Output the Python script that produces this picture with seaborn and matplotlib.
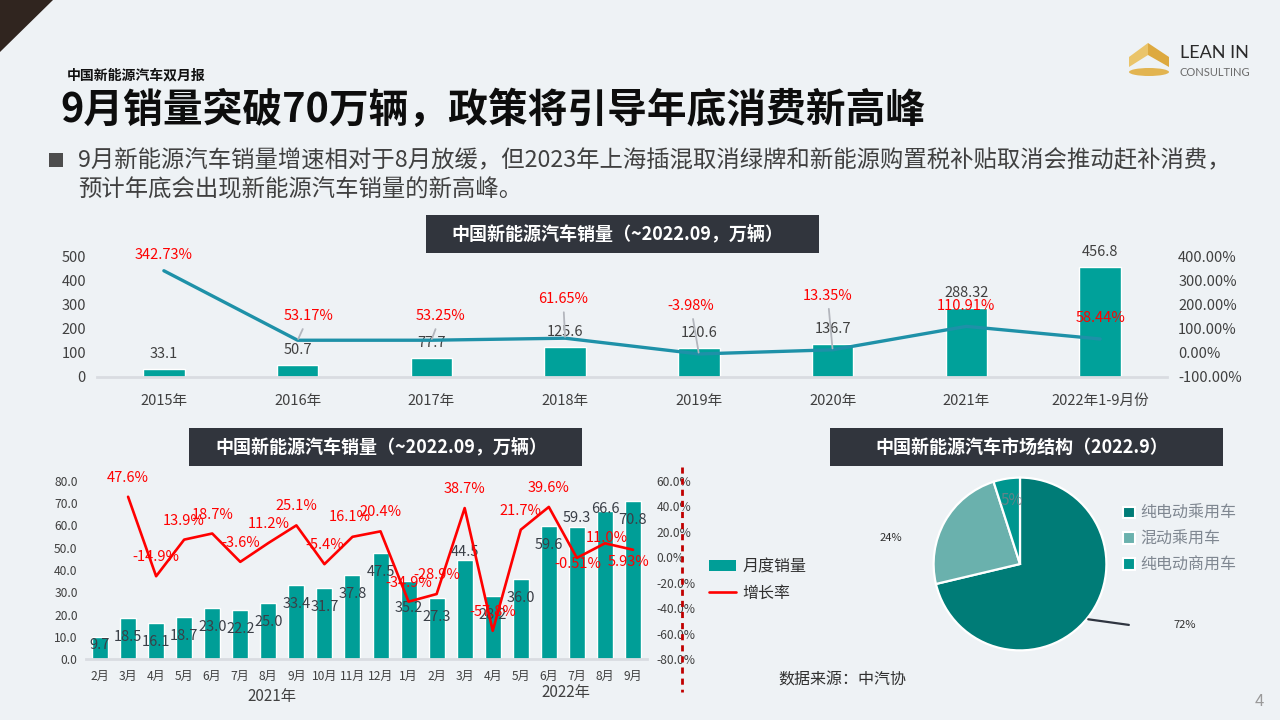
import numpy as np
import pandas as pd
import matplotlib
matplotlib.use("Agg")
import matplotlib.pyplot as plt
import seaborn as sns
from matplotlib.patches import Rectangle, Polygon, Ellipse, Patch
from matplotlib.lines import Line2D

# ---------------- data ----------------
years = ["2015年", "2016年", "2017年", "2018年", "2019年", "2020年", "2021年", "2022年1-9月份"]
annual_sales = [33.1, 50.7, 77.7, 125.6, 120.6, 136.7, 288.32, 456.8]
annual_sales_labels = ["33.1", "50.7", "77.7", "125.6", "120.6", "136.7", "288.32", "456.8"]
annual_growth = [342.73, 53.17, 53.25, 61.65, -3.98, 13.35, 110.91, 58.44]
annual_growth_labels = ["342.73%", "53.17%", "53.25%", "61.65%", "-3.98%", "13.35%", "110.91%", "58.44%"]

months = ["2月", "3月", "4月", "5月", "6月", "7月", "8月", "9月", "10月", "11月", "12月",
          "1月", "2月", "3月", "4月", "5月", "6月", "7月", "8月", "9月"]
monthly_sales = [9.7, 18.5, 16.1, 18.7, 23.0, 22.2, 25.0, 33.4, 31.7, 37.8, 47.5,
                 35.2, 27.3, 44.5, 28.2, 36.0, 59.6, 59.3, 66.6, 70.8]
monthly_growth = [np.nan, 47.6, -14.9, 13.9, 18.7, -3.6, 11.2, 25.1, -5.4, 16.1, 20.4,
                  -34.9, -28.9, 38.7, -57.8, 21.7, 39.6, -0.51, 11.0, 5.93]
monthly_growth_labels = ["", "47.6%", "-14.9%", "13.9%", "18.7%", "-3.6%", "11.2%", "25.1%", "-5.4%",
                         "16.1%", "20.4%", "-34.9%", "-28.9%", "38.7%", "-57.8%", "21.7%", "39.6%",
                         "-0.51%", "11.0%", "5.93%"]
year_groups = ["2021年", "2022年"]

segments = ["纯电动乘用车", "混动乘用车", "纯电动商用车"]
shares = [72, 24, 5]

# ---------------- texts ----------------
kicker = "中国新能源汽车双月报"
title = "9月销量突破70万辆，政策将引导年底消费新高峰"
bullet_1 = "9月新能源汽车销量增速相对于8月放缓，但2023年上海插混取消绿牌和新能源购置税补贴取消会推动赶补消费，"
bullet_2 = "预计年底会出现新能源汽车销量的新高峰。"
box_top = "中国新能源汽车销量（~2022.09，万辆）"
box_left = "中国新能源汽车销量（~2022.09，万辆）"
box_right = "中国新能源汽车市场结构（2022.9）"
source = "数据来源：中汽协"

# ---------------- styles ----------------
BG = "#EEF2F5"
BOX = "#31353D"
TEAL_TOP = "#00A19A"
TEAL_BAR = "#009E97"
LINE_TOP = "#1E91A8"
RED = "#FF0000"
TXT = "#404040"
PIE_COLORS = ["#007C77", "#6AB1AD", "#00968F"]

W, H = 1280, 720


def fx(px):
    return px / W


def fy(py):
    return 1 - py / H


sns.set_theme(style="white")
plt.rcParams["font.family"] = ["Noto Sans CJK SC", "DejaVu Sans"]
plt.rcParams["axes.unicode_minus"] = False

fig = plt.figure(figsize=(12.8, 7.2), dpi=100, facecolor=BG)

# ---------------- header ----------------
fig.add_artist(Polygon([(0, 1), (fx(53), 1), (0, fy(52))], closed=True,
                       transform=fig.transFigure, facecolor="#30251F", edgecolor="none"))
fig.text(fx(67), fy(76), kicker, fontsize=10, fontweight="bold", color="#111111", va="center", ha="left")
fig.text(fx(60), fy(110), title, fontsize=28.6, fontweight="bold", color="#0D0D0D", va="center", ha="left")
fig.add_artist(Rectangle((fx(49), fy(167)), 14 / W, 14 / H, transform=fig.transFigure,
                         facecolor="#4D4D4D", edgecolor="none"))
fig.text(fx(78), fy(161), bullet_1, fontsize=16.8, color=TXT, va="center", ha="left")
fig.text(fx(78), fy(190), bullet_2, fontsize=16.8, color=TXT, va="center", ha="left")

# logo
fig.add_artist(Polygon([(fx(1129), fy(57)), (fx(1148), fy(43)), (fx(1148), fy(55)), (fx(1129), fy(67))],
                       closed=True, transform=fig.transFigure, facecolor="#EAC46A", edgecolor="none"))
fig.add_artist(Polygon([(fx(1148), fy(43)), (fx(1169), fy(57)), (fx(1169), fy(67)), (fx(1148), fy(55))],
                       closed=True, transform=fig.transFigure, facecolor="#DDA93F", edgecolor="none"))
fig.add_artist(Ellipse((fx(1149), fy(72)), 40 / W, 8 / H, transform=fig.transFigure,
                       facecolor="#E2B450", edgecolor="none"))
fig.text(fx(1180), fy(53), "LEAN IN", fontsize=13, family=["Lato", "DejaVu Sans"], color="#2A2A2A",
         va="center", ha="left")
fig.text(fx(1180), fy(72), "CONSULTING", fontsize=8, family=["Lato", "DejaVu Sans"], color="#6B6B6B",
         va="center", ha="left")

# title boxes
for (x0, x1, y0, y1, txt, cx) in [(426, 819, 215, 253, box_top, 617),
                                  (189, 582, 428, 466, box_left, 381),
                                  (830, 1223, 428, 466, box_right, 1022)]:
    fig.add_artist(Rectangle((fx(x0), fy(y1)), (x1 - x0) / W, (y1 - y0) / H, transform=fig.transFigure,
                             facecolor=BOX, edgecolor="none"))
    fig.text(fx(cx), fy((y0 + y1) / 2), txt, fontsize=13, fontweight="bold", color="white",
             ha="center", va="center")

# ---------------- top chart ----------------
ax1 = fig.add_axes([fx(97), fy(377), 1070 / W, 132 / H])
ax1.set_facecolor("none")
df_top = pd.DataFrame({"pos": range(len(years)), "sales": annual_sales, "growth": annual_growth})
sns.barplot(data=df_top, x="pos", y="sales", color=TEAL_TOP, width=0.31, saturation=1, ax=ax1)
ax1.set_xlim(-0.5, 7.5)
ax1.set_ylim(0, 550)
ax1.set_yticks([0, 100, 200, 300, 400, 500])
ax1.set_yticklabels(["0", "100", "200", "300", "400", "500"])
ax1.set_xticks(range(len(years)))
ax1.set_xticklabels(years)
ax1.set_xlabel("")
ax1.set_ylabel("")
ax1.tick_params(axis="y", length=0, pad=8, labelsize=10.5, labelcolor=TXT)
ax1.tick_params(axis="x", length=0, pad=12, labelsize=10.5, labelcolor=TXT)
for s in ["top", "right", "left"]:
    ax1.spines[s].set_visible(False)
ax1.spines["bottom"].set_color("#D9DCE1")
ax1.spines["bottom"].set_linewidth(2)
ax1.grid(False)
for i, (v, lab) in enumerate(zip(annual_sales, annual_sales_labels)):
    ax1.annotate(lab, xy=(i, v), xytext=(0, 15), textcoords="offset pixels", ha="center", va="center",
                 fontsize=10.5, color=TXT)

ax1t = ax1.twinx()
ax1t.set_facecolor("none")
sns.lineplot(data=df_top, x="pos", y="growth", color=LINE_TOP, lw=2.4, ax=ax1t, legend=False)
ax1t.set_ylim(-100, 450)
ax1t.set_yticks([-100, 0, 100, 200, 300, 400])
ax1t.set_yticklabels([f"{v:.2f}%" for v in [-100, 0, 100, 200, 300, 400]])
ax1t.set_xlim(-0.5, 7.5)
ax1t.set_xlabel("")
ax1t.set_ylabel("")
ax1t.tick_params(axis="y", length=0, pad=8, labelsize=10.5, labelcolor=TXT)
for s in ax1t.spines.values():
    s.set_visible(False)
ax1t.grid(False)
top_offsets = [(0, 16), (11, 24), (9, 24), (-2, 39), (-8, 48), (-5, 54), (0, 20), (0, 21)]
top_leader = [False, True, True, True, True, True, False, False]
for i, (g, lab) in enumerate(zip(annual_growth, annual_growth_labels)):
    dx, dy = top_offsets[i]
    kw = {}
    if top_leader[i]:
        kw["arrowprops"] = dict(arrowstyle="-", color="#B3B6BD", lw=1.3, shrinkA=2, shrinkB=1)
    ax1t.annotate(lab, xy=(i, g), xytext=(dx, dy), textcoords="offset pixels", ha="center", va="center",
                  fontsize=10.5, color=RED, **kw)

# ---------------- bottom-left chart ----------------
ax2 = fig.add_axes([fx(86), fy(659), 561 / W, 178 / H])
ax2.set_facecolor("none")
df_m = pd.DataFrame({"pos": range(len(months)), "sales": monthly_sales, "growth": monthly_growth})
sns.barplot(data=df_m, x="pos", y="sales", color=TEAL_BAR, width=0.57, saturation=1, ax=ax2)
ax2.set_xlim(-0.5, 19.5)
ax2.set_ylim(0, 80)
ax2.set_yticks(np.arange(0, 81, 10))
ax2.set_yticklabels([f"{v:.1f}" for v in np.arange(0, 81, 10)])
ax2.set_xticks(range(len(months)))
ax2.set_xticklabels(months)
ax2.set_xlabel("")
ax2.set_ylabel("")
ax2.tick_params(axis="y", length=0, pad=6, labelsize=8.7, labelcolor=TXT)
ax2.tick_params(axis="x", length=0, pad=8, labelsize=8.7, labelcolor=TXT)
for s in ["top", "right", "left"]:
    ax2.spines[s].set_visible(False)
ax2.spines["bottom"].set_color("#D9DCE1")
ax2.spines["bottom"].set_linewidth(2)
ax2.grid(False)
bar_dy = [-19] * len(monthly_sales)
bar_dy[0], bar_dy[11], bar_dy[13], bar_dy[17], bar_dy[18] = -8, -27, 8, 9, 2
for i, v in enumerate(monthly_sales):
    ax2.annotate(f"{v:.1f}", xy=(i, v), xytext=(0, bar_dy[i]), textcoords="offset pixels",
                 ha="center", va="center", fontsize=10.5, color="#3A3F47", zorder=5)

ax2t = ax2.twinx()
ax2t.set_facecolor("none")
sns.lineplot(data=df_m.dropna(), x="pos", y="growth", color=RED, lw=1.9, ax=ax2t, legend=False)
ax2t.set_xlim(-0.5, 19.5)
ax2t.set_ylim(-80, 60)
ax2t.set_yticks(np.arange(-80, 61, 20))
ax2t.set_yticklabels([f"{v:.1f}%" for v in np.arange(-80, 61, 20)])
ax2t.set_xlabel("")
ax2t.set_ylabel("")
ax2t.tick_params(axis="y", length=0, pad=7, labelsize=8.7, labelcolor=TXT)
for s in ax2t.spines.values():
    s.set_visible(False)
ax2t.grid(False)
g_off = {i: (0, 19) for i in range(len(months))}
g_off[17], g_off[18], g_off[19], g_off[9] = (1, -6), (2, 5), (-4, -12), (-3, 20)
for i, (g, lab) in enumerate(zip(monthly_growth, monthly_growth_labels)):
    if not lab:
        continue
    dx, dy = g_off[i]
    ax2t.annotate(lab, xy=(i, g), xytext=(dx, dy), textcoords="offset pixels", ha="center", va="center",
                  fontsize=10.5, color=RED)

fig.text(fx(272), fy(696), year_groups[0], fontsize=11, color=TXT, ha="center", va="center")
fig.text(fx(566), fy(693), year_groups[1], fontsize=11, color=TXT, ha="center", va="center")

# dashed separator
fig.add_artist(Line2D([fx(682), fx(682)], [fy(467), fy(692)], transform=fig.transFigure,
                      color="#C00000", lw=2, ls=(0, (2.2, 1.8))))

leg1 = fig.legend([Patch(facecolor=TEAL_BAR, edgecolor="none"), Line2D([], [], color=RED, lw=1.9)],
                  ["月度销量", "增长率"], loc="upper left", bbox_to_anchor=(fx(709), fy(558)),
                  frameon=False, fontsize=11.5, handlelength=1.7, handleheight=0.65, handletextpad=0.4,
                  labelspacing=0.6, borderpad=0, borderaxespad=0, labelcolor="#303030")

# ---------------- pie ----------------
ax3 = fig.add_axes([fx(912), fy(672), 216 / W, 216 / H])
ax3.set_facecolor("none")
wedges, texts = ax3.pie(shares, colors=PIE_COLORS, startangle=90, counterclock=False,
                        labels=[f"{s}%" for s in shares], labeldistance=1.1,
                        wedgeprops=dict(edgecolor="white", linewidth=1.6))
ax3.set_xlim(-1.25, 1.25)
ax3.set_ylim(-1.25, 1.25)
ax3.set_aspect("equal")
label_pos = [(1.91, -0.705), (-1.50, 0.30), (-0.09, 0.74)]
label_style = [dict(fontsize=8, color="#303030"), dict(fontsize=8, color="#303030"),
               dict(fontsize=11, color="#7A7F88", alpha=0.8)]
for t, p, st in zip(texts, label_pos, label_style):
    t.set_position(p)
    t.set_ha("center")
    t.set_va("center")
    t.set_clip_on(False)
    t.set(**st)
ax3.plot([0.79, 1.26], [-0.64, -0.705], color="#2F3540", lw=1.6, clip_on=False)

leg2 = fig.legend([Patch(facecolor=c, edgecolor="white", lw=1.5) for c in PIE_COLORS], segments,
                  loc="upper left", bbox_to_anchor=(fx(1123), fy(505)), frameon=False, fontsize=11.5,
                  handlelength=0.75, handleheight=0.75, handletextpad=0.35, labelspacing=0.55,
                  borderpad=0, borderaxespad=0, labelcolor="#7F8791")

fig.text(fx(778), fy(680), source, fontsize=11.5, color="#303030", ha="left", va="center")
fig.text(fx(1259), fy(702), "4", fontsize=12, color="#9A9A9A", ha="center", va="center")

fig.savefig("out.png", dpi=100, facecolor=BG)
